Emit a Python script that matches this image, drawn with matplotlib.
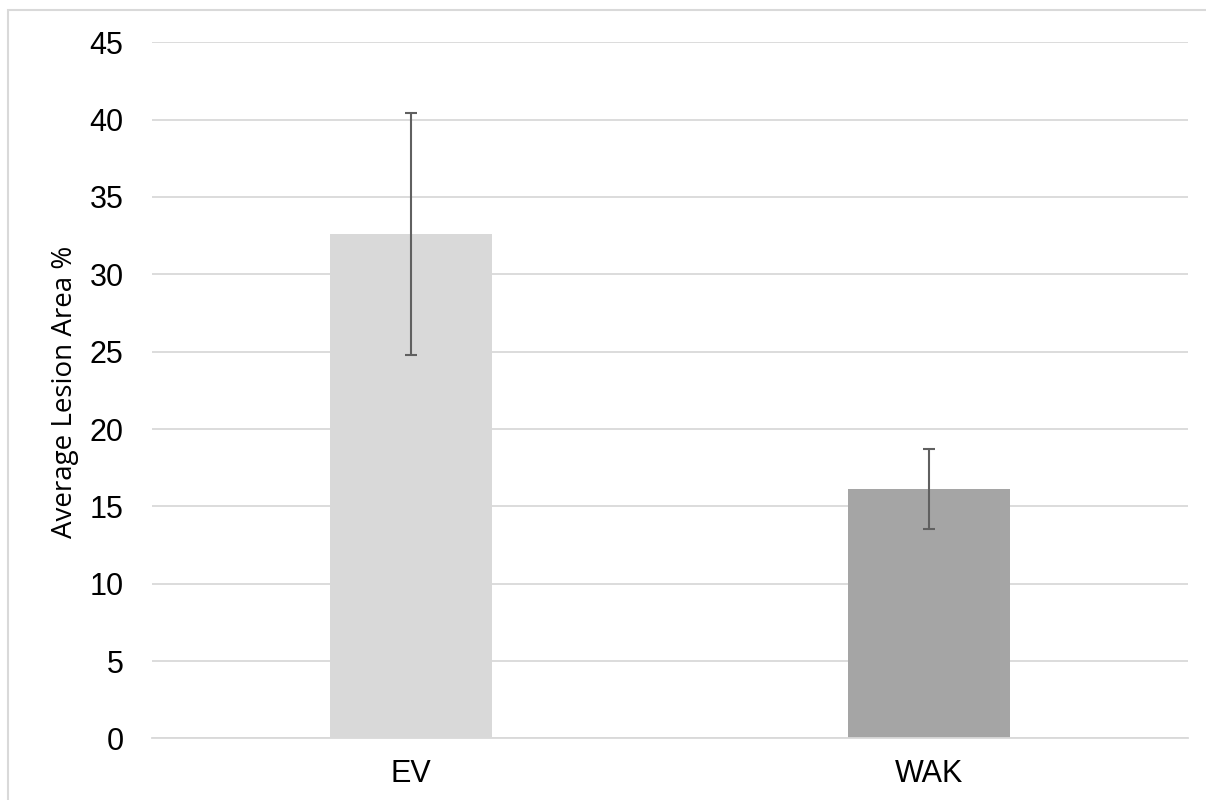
import matplotlib
matplotlib.use("Agg")
import matplotlib.pyplot as plt
from matplotlib.patches import Rectangle

categories = ["EV", "WAK"]
values = [32.59, 16.12]
errors = [7.83, 2.60]
bar_colors = ["#d9d9d9", "#a5a5a5"]
yticks = [0, 5, 10, 15, 20, 25, 30, 35, 40, 45]
ylabel = "Average Lesion Area %"

plt.rcParams['font.family'] = ['Liberation Sans', 'DejaVu Sans']

fig = plt.figure(figsize=(12.06, 8.0), dpi=100)
ax = fig.add_axes([152/1206, 1-738.4/800, (1188-152)/1206, (738.4-42.3)/800])

x = list(range(len(categories)))
ax.bar(x, values, width=0.314, color=bar_colors, zorder=2)
ax.errorbar(x, values, yerr=errors, fmt='none', ecolor='#606060',
            elinewidth=1.5, capsize=4.5, capthick=1.5, zorder=3)

ax.set_xlim(-0.5, 1.5)
ax.set_ylim(0, 45)
ax.set_yticks(yticks)
ax.set_yticklabels([str(t) for t in yticks], fontsize=22)
ax.set_xticks(x)
ax.set_xticklabels(categories, fontsize=22)
ax.tick_params(axis='y', length=0, pad=20.5)
ax.tick_params(axis='x', length=0, pad=15)
ax.grid(axis='y', color='#d9d9d9', linewidth=1.3, zorder=0)
for s in ['top', 'right', 'left']:
    ax.spines[s].set_visible(False)
ax.spines['bottom'].set_color('#d9d9d9')
ax.spines['bottom'].set_linewidth(1.3)

fig.text(65/1206, 1-392/800, ylabel, rotation=90, ha='center', va='center',
         fontsize=20, family=['Open Sans', 'DejaVu Sans'])

fig.patches.append(Rectangle((8/1206, -0.05), 1.2, (800-10)/800 + 0.05,
                             transform=fig.transFigure, fill=False,
                             edgecolor='#d9d9d9', linewidth=1.5))

fig.savefig("out.png", dpi=100)
